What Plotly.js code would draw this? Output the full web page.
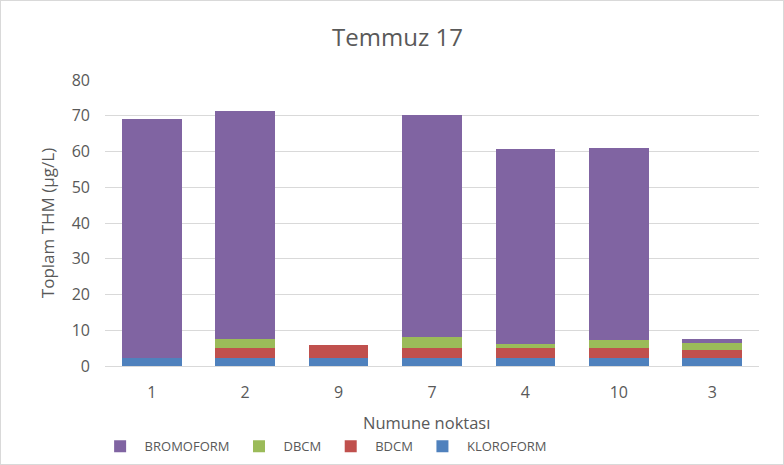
<!DOCTYPE html>
<html><head><meta charset="utf-8">
<script src="https://cdn.plot.ly/plotly-3.0.1.min.js"></script>
<style>html,body{margin:0;padding:0;background:#fff}#c{width:782px;height:463px;border:1px solid #d9d9d9}</style>
</head><body><div id="c"></div>
<script>
var categories = ['1','2','9','7','4','10','3'];
var kloroform = [2.2, 2.2, 2.2, 2.2, 2.2, 2.2, 2.2];
var bdcm      = [0.0, 2.8, 3.6, 2.8, 2.8, 2.8, 2.3];
var dbcm      = [0.0, 2.5, 0.0, 3.0, 1.1, 2.3, 1.8];
var bromoform = [66.9, 63.8, 0.0, 62.1, 54.6, 53.7, 1.2];
var seriesNames = ['KLOROFORM','BDCM','DBCM','BROMOFORM'];
var colors = ['#4F81BD','#C0504D','#9BBB59','#8064A2'];
var yTicks = [0,10,20,30,40,50,60,70,80];
var xTitle = 'Numune noktası';

var vals = [kloroform, bdcm, dbcm, bromoform];
var traces = vals.map(function(v,i){
  return {type:'bar', x:categories, y:v, name:seriesNames[i], marker:{color:colors[i]}, hoverinfo:'y'};
});
var layout = {
  width:782, height:463,
  margin:{l:104,r:24,t:79,b:98, autoexpand:false},
  barmode:'stack', bargap:0.36,
  paper_bgcolor:'#fff', plot_bgcolor:'#fff',
  font:{family:'Open Sans, sans-serif', color:'#595959', size:13},
  title:{text:'Temmuz 17', xref:'container', yref:'container', x:0.507, xanchor:'center', y:0.921, yanchor:'middle', font:{size:24, color:'#595959'}},
  xaxis:{type:'category', categoryorder:'array', categoryarray:categories, showgrid:false, showline:true, linecolor:'#d9d9d9', ticks:'', tickfont:{size:16,color:'#595959'}, ticklabelstandoff:12},
  yaxis:{range:[0,80], tickvals:yTicks, showgrid:true, gridcolor:'#d9d9d9', zeroline:false, showline:false, ticks:'', tickfont:{size:16,color:'#595959'}, ticklabelstandoff:14,
         title:{text:'Toplam THM (µg/L)', font:{size:17,color:'#595959'}, standoff:12}},
  annotations:[{text:xTitle, xref:'paper', yref:'paper', x:0.491, y:-0.196, xanchor:'center', yanchor:'middle', showarrow:false, font:{size:16.5,color:'#595959'}}],
  legend:{orientation:'h', traceorder:'reversed', xref:'container', yref:'container', x:0.121, xanchor:'left', y:0.038, yanchor:'middle', itemwidth:39, font:{size:13,color:'#595959'}},
  showlegend:true
};
Plotly.newPlot('c', traces, layout, {displayModeBar:false, staticPlot:true});
</script></body></html>
